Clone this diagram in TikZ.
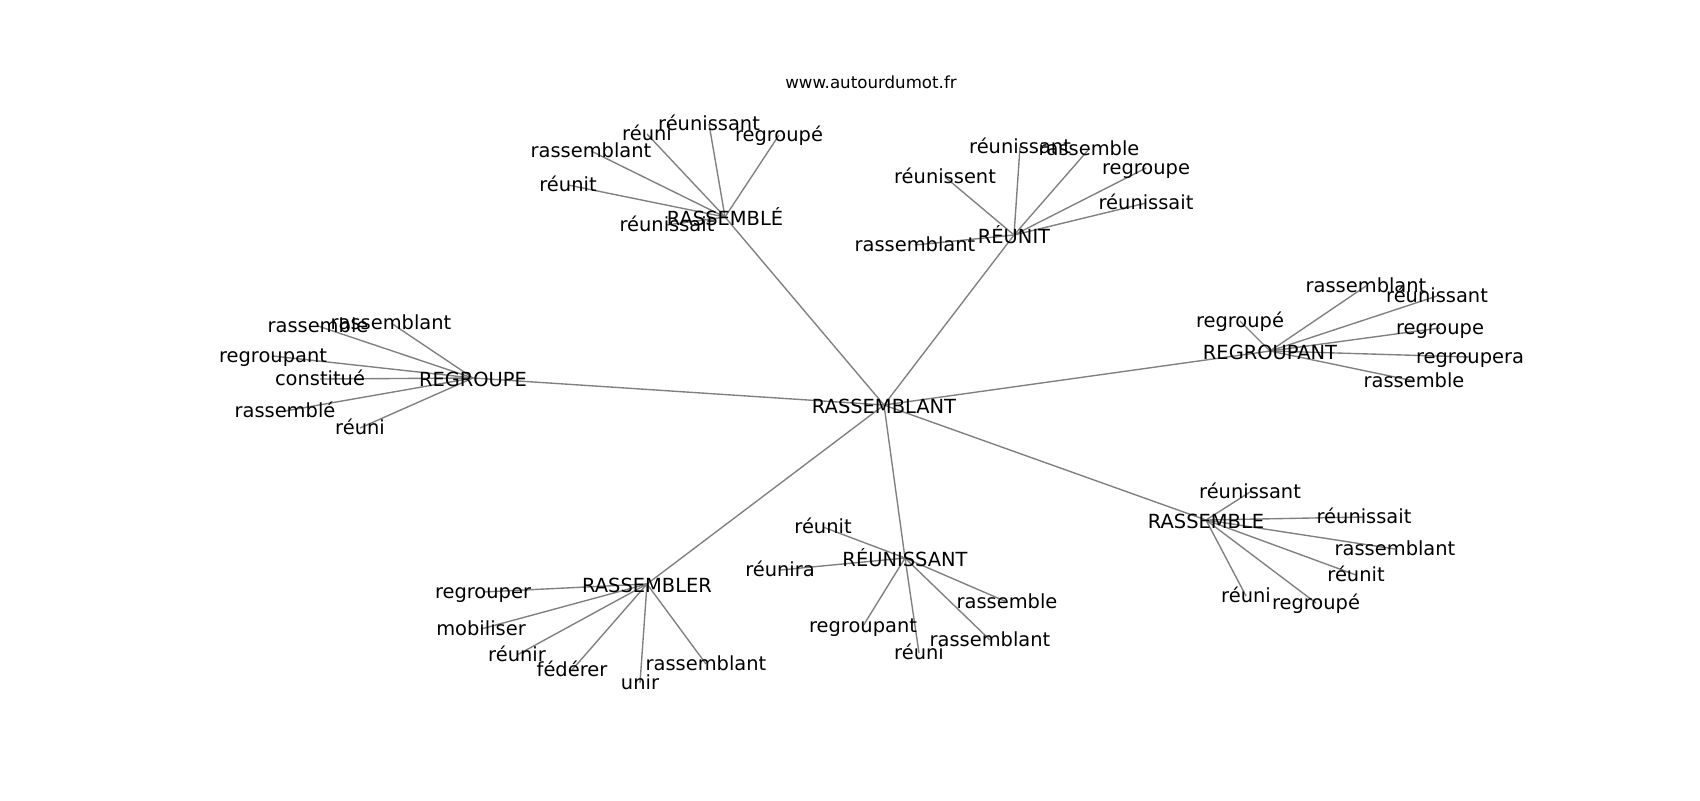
\documentclass[tikz,border=0pt]{standalone}
\usepackage{fontspec}
\setmainfont{DejaVu Sans}
\begin{document}
\begin{tikzpicture}[x=0.5pt,y=-0.5pt,
  lbl/.style={inner sep=0pt,outer sep=0pt,anchor=center,text height=7.6pt,text depth=1.5pt,font=\fontsize{9.72}{11}\selectfont},
  hub/.style={lbl,text height=9.1pt,text depth=0.8pt},
  ttl/.style={inner sep=0pt,anchor=center,font=\fontsize{8.33}{10}\selectfont},
  edge/.style={draw=gray,line width=0.69pt}]
\pgfdeclarelayer{bg}
\pgfsetlayers{bg,main}
\useasboundingbox (0,0) rectangle (1700,800);
\node[ttl] (title) at (871,82) {www.autourdumot.fr};
% centre
\node[hub] (c) at (884,405) {RASSEMBLANT};
% hubs
\node[hub] (A) at (725,217) {RASSEMBLÉ};
\node[hub] (B) at (1014,235) {RÉUNIT};
\node[hub] (C) at (473,378) {REGROUPE};
\node[hub] (D) at (1270,351) {REGROUPANT};
\node[hub] (E) at (1206,520) {RASSEMBLE};
\node[hub] (F) at (905,558) {RÉUNISSANT};
\node[hub] (G) at (647,584) {RASSEMBLER};
% leaves of A
\node[lbl] (A1) at (709,124) {réunissant};
\node[lbl] (A2) at (647,134) {réuni};
\node[lbl] (A3) at (779,135) {regroupé};
\node[lbl] (A4) at (591,151) {rassemblant};
\node[lbl] (A5) at (568,185) {réunit};
\node[lbl] (A6) at (667,225) {réunissait};
% leaves of B
\node[lbl] (B1) at (1020,147) {réunissant};
\node[lbl] (B2) at (1089,149) {rassemble};
\node[lbl] (B3) at (1146,168) {regroupe};
\node[lbl] (B4) at (1146,203) {réunissait};
\node[lbl] (B5) at (945,177) {réunissent};
\node[lbl] (B6) at (915,245) {rassemblant};
% leaves of C
\node[lbl] (C1) at (318,326) {rassemble};
\node[lbl] (C2) at (391,323) {rassemblant};
\node[lbl] (C3) at (273,356) {regroupant};
\node[lbl] (C4) at (320,379) {constitué};
\node[lbl] (C5) at (285,411) {rassemblé};
\node[lbl] (C6) at (360,428) {réuni};
% leaves of D
\node[lbl] (D1) at (1240,321) {regroupé};
\node[lbl] (D2) at (1366,286) {rassemblant};
\node[lbl] (D3) at (1437,296) {réunissant};
\node[lbl] (D4) at (1440,328) {regroupe};
\node[lbl] (D5) at (1470,357) {regroupera};
\node[lbl] (D6) at (1414,381) {rassemble};
% leaves of E
\node[lbl] (E1) at (1250,492) {réunissant};
\node[lbl] (E2) at (1364,517) {réunissait};
\node[lbl] (E3) at (1395,549) {rassemblant};
\node[lbl] (E4) at (1356,575) {réunit};
\node[lbl] (E5) at (1246,596) {réuni};
\node[lbl] (E6) at (1316,603) {regroupé};
% leaves of F
\node[lbl] (F1) at (823,527) {réunit};
\node[lbl] (F2) at (780,570) {réunira};
\node[lbl] (F3) at (863,626) {regroupant};
\node[lbl] (F4) at (919,653) {réuni};
\node[lbl] (F5) at (1007,602) {rassemble};
\node[lbl] (F6) at (990,640) {rassemblant};
% leaves of G
\node[lbl] (G1) at (483,592) {regrouper};
\node[lbl] (G2) at (481,629) {mobiliser};
\node[lbl] (G3) at (517,655) {réunir};
\node[lbl] (G4) at (572,670) {fédérer};
\node[lbl] (G5) at (640,683) {unir};
\node[lbl] (G6) at (706,664) {rassemblant};
\begin{pgfonlayer}{bg}
\foreach \h in {A,B,C,D,E,F,G}{
  \draw[edge] (c.center) -- (\h.center);
  \foreach \i in {1,...,6}{
    \draw[edge] (\h.center) -- (\h\i.center);
  }
}
\end{pgfonlayer}
\end{tikzpicture}
\end{document}
